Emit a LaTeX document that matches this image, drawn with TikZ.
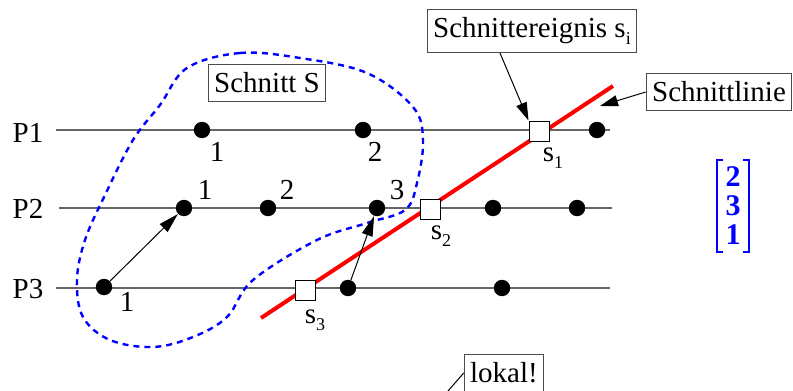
\documentclass[tikz,border=0pt]{standalone}
\usepackage{fontspec}
\setmainfont{Liberation Serif}
\usetikzlibrary{arrows.meta,positioning}
\definecolor{cutred}{HTML}{FF0000}
\definecolor{cutblue}{HTML}{0000FF}
\newcommand{\lowidx}[1]{\raisebox{-0.5ex}{\small #1}}

\begin{document}
\begin{tikzpicture}[
  x=0.5pt,y=-0.5pt,
  font=\fontsize{14.5}{14.5}\selectfont,
  proc/.style={draw=black!60,line width=0.6pt},
  event/.style={circle,fill=black,inner sep=0pt,minimum size=8.2pt},
  cutevent/.style={rectangle,draw,fill=white,inner sep=0pt,minimum size=10pt,line width=0.5pt},
  tag/.style={draw=black!70,line width=0.5pt,inner xsep=3pt,inner ysep=4pt},
  num/.style={inner sep=0pt},
  msg/.style={-{Triangle[length=10pt,width=5.5pt]},line width=0.5pt},
  pointer/.style={-{Triangle[length=9pt,width=5.5pt]},line width=0.5pt}
]
  \useasboundingbox (0,0) rectangle (793,391);

  % process lines
  \node (P1) at (28,133) {P1};
  \node (P2) at (28,209) {P2};
  \node (P3) at (28,289) {P3};
  \coordinate (l1a) at (56,130);  \coordinate (l1b) at (610,130);
  \coordinate (l2a) at (59,208);  \coordinate (l2b) at (612,208);
  \coordinate (l3a) at (56,288);  \coordinate (l3b) at (610,288);
  \draw[proc] (l1a) -- (l1b);
  \draw[proc] (l2a) -- (l2b);
  \draw[proc] (l3a) -- (l3b);

  % cut line
  \coordinate (cutA) at (261,318);
  \coordinate (cutB) at (613,86);
  \draw[cutred,line width=2pt] (cutA) -- (cutB);

  % cut S
  \draw[cutblue,line width=1.2pt,dash pattern=on 3pt off 2.5pt]
    plot[smooth cycle,tension=0.6] coordinates {
      (187,68) (240,53) (300,58) (367,73) (413,107) (423,140) (417,183)
      (405,210) (367,223) (317,240) (253,280) (227,317) (193,337) (153,347)
      (110,340) (83,317) (77,280) (85,240) (105,195) (133,140) (160,105)};

  % events
  \node[event] (p1a) at (202,130) {};
  \node[event] (p1b) at (363,130) {};
  \node[event] (p1c) at (597,130) {};
  \node[event] (p2a) at (184,208) {};
  \node[event] (p2b) at (268,208) {};
  \node[event] (p2c) at (377,208) {};
  \node[event] (p2d) at (493,208) {};
  \node[event] (p2e) at (577,208) {};
  \node[event] (p3a) at (104,287) {};
  \node[event] (p3b) at (348,288) {};
  \node[event] (p3c) at (502,288) {};

  \node[num] (n1a) at (217,152) {1};
  \node[num] (n1b) at (375,152) {2};
  \node[num] (n2a) at (205,190) {1};
  \node[num] (n2b) at (287,190) {2};
  \node[num] (n2c) at (397,190) {3};
  \node[num] (n3a) at (127,302) {1};

  \draw[msg] (p3a) -- (p2a);
  \draw[msg] (p3b) -- (p2c);

  % cut events
  \node[cutevent] (s1) at (539,131) {};
  \node[cutevent] (s2) at (430,209) {};
  \node[cutevent] (s3) at (305,290) {};
  \node[num] (s1l) at (553,158) {s\lowidx{1}};
  \node[num] (s2l) at (441,236) {s\lowidx{2}};
  \node[num] (s3l) at (315,320) {s\lowidx{3}};

  % annotations
  \node[tag] (schnitt) at (267,83) {Schnitt S};
  \node[tag] (ereignis) at (532,31) {Schnittereignis s\lowidx{i}};
  \node[tag] (linie) at (719,92) {Schnittlinie};
  \node[tag] (lokal) at (504,373) {lokal!};
  \coordinate (eStart) at (500,53);
  \coordinate (lineTip) at (600,106);
  \coordinate (lokalEnd) at (448,391);
  \draw[pointer] (eStart) -- (s1.north west);
  \draw[pointer] (linie.west) -- (lineTip);
  \draw[line width=0.5pt] (lokal.west) -- (lokalEnd);

  % order vector
  \node[cutblue,font=\fontsize{15}{14.5}\selectfont\bfseries,align=center,
        minimum width=16pt,minimum height=45.5pt,inner sep=0pt] (perm) at (733,206)
        {2\\3\\1};
  \draw[cutblue,line width=1pt]
    ([xshift=3pt]perm.north west) -- (perm.north west) -- (perm.south west) -- ([xshift=3pt]perm.south west);
  \draw[cutblue,line width=1pt]
    ([xshift=-3pt]perm.north east) -- (perm.north east) -- (perm.south east) -- ([xshift=-3pt]perm.south east);
\end{tikzpicture}
\end{document}
